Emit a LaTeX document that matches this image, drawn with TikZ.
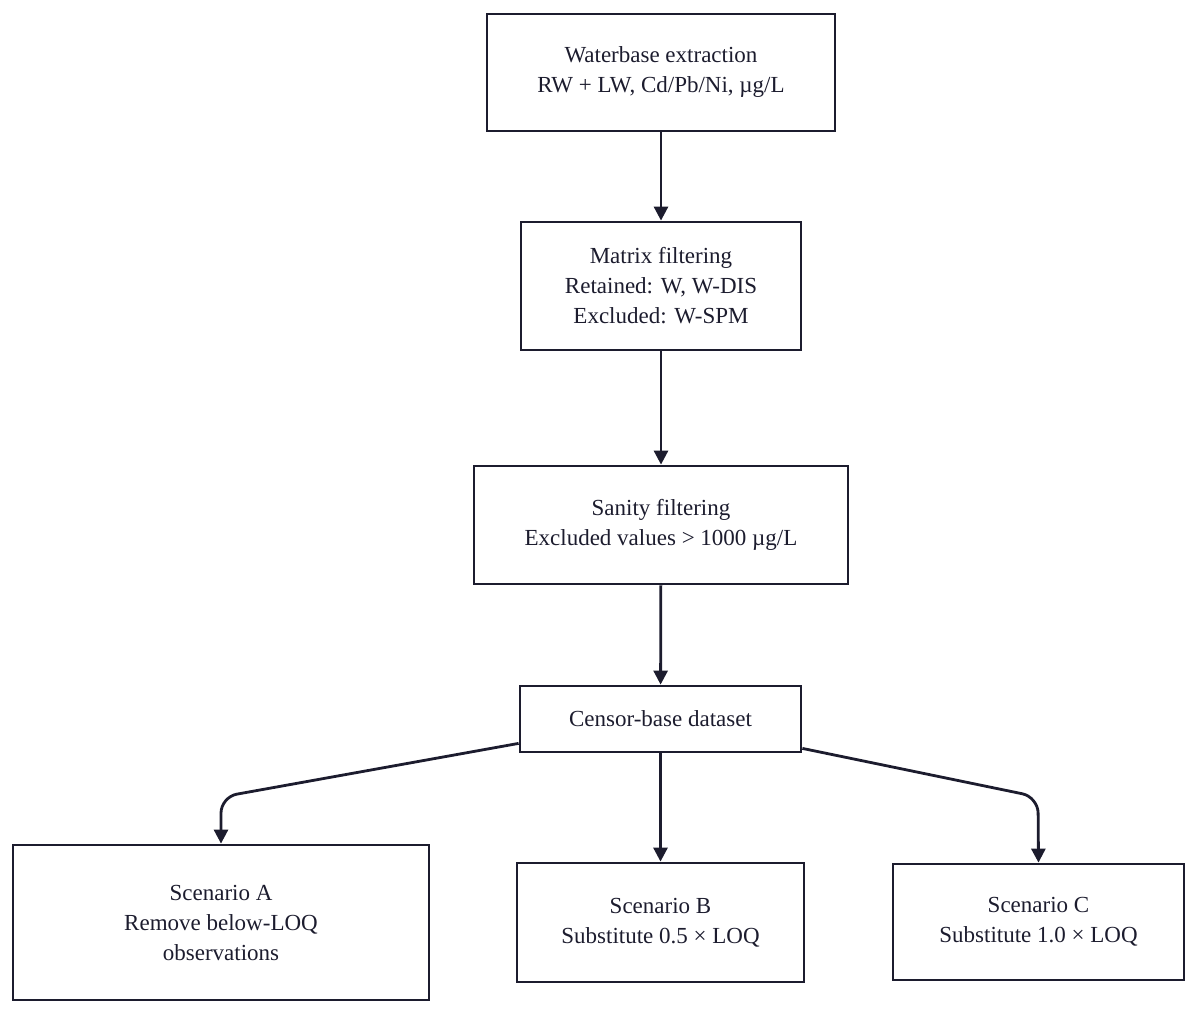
\documentclass[tikz,border=0pt]{standalone}
\usepackage{fontspec}
\setmainfont{Liberation Serif}
\usetikzlibrary{arrows.meta}
\definecolor{ink}{HTML}{1C1C2E}
\begin{document}
\begin{tikzpicture}[x=0.5pt,y=-0.5pt,
  box/.style={draw=ink,line width=1.4pt,text=ink,align=center,font=\fontsize{11.5}{15}\selectfont,inner sep=0pt},
  arr/.style={draw=ink,line width=1.4pt,-{Triangle[length=7pt,width=7pt]},rounded corners=8pt}]
\useasboundingbox (0,0) rectangle (1200,1017);
\node[box,minimum width=174pt,minimum height=58.5pt] (a) at (661,72.5) {Waterbase extraction\\RW + LW, Cd/Pb/Ni, µg/L};
\node[box,minimum width=140pt,minimum height=64pt] (b) at (661,286) {Matrix filtering\\Retained: W, W-DIS\\Excluded: W-SPM};
\node[box,minimum width=187pt,minimum height=59pt] (c) at (661,525) {Sanity filtering\\Excluded values > 1000 µg/L};
\node[box,minimum width=140.5pt,minimum height=33pt] (d) at (660.5,719) {Censor-base dataset};
\node[box,minimum width=208pt,minimum height=77.5pt] (sa) at (221,922.5) {Scenario A\\Remove below-LOQ\\observations};
\node[box,minimum width=143.5pt,minimum height=59.5pt] (sb) at (660.5,922.5) {Scenario B\\Substitute 0.5 × LOQ};
\node[box,minimum width=145.5pt,minimum height=58pt] (sc) at (1038.5,922) {Scenario C\\Substitute 1.0 × LOQ};
\draw[arr] (a) -- (b);
\draw[arr] (b) -- (c);
\draw[arr] (c) -- (d);
\draw[arr] (d) -- (sb);
\draw[arr] (d.south west) ++(0,-10) coordinate (dl) -- (221,797) -- (sa.north);
\draw[arr] (d.south east) ++(0,-5) coordinate (dr) -- (1038,797) -- (sc.north);
\end{tikzpicture}
\end{document}
